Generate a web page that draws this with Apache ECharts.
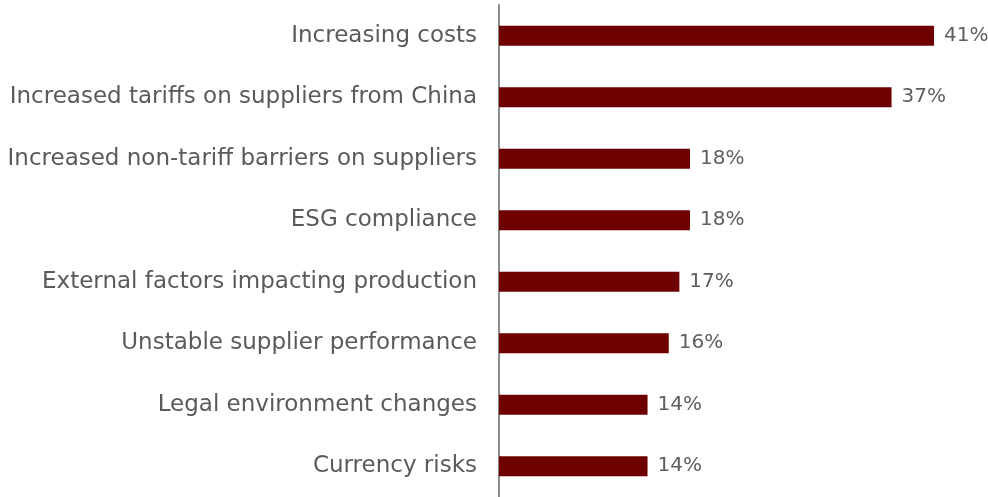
<!DOCTYPE html>
<html>
<head>
<meta charset="utf-8">
<script src="https://cdn.jsdelivr.net/npm/echarts@6/dist/echarts.min.js"></script>
<style>
  html, body { margin: 0; padding: 0; background: #ffffff; }
  #chart { width: 988px; height: 497px; }
</style>
</head>
<body>
<div id="chart"></div>
<script>
// Supply-chain challenges, share of respondents (%)
const categories = [
  'Increasing costs',
  'Increased tariffs on suppliers from China',
  'Increased non-tariff barriers on suppliers',
  'ESG compliance',
  'External factors impacting production',
  'Unstable supplier performance',
  'Legal environment changes',
  'Currency risks'
];
const values = [41, 37, 18, 18, 17, 16, 14, 14];

const chart = echarts.init(document.getElementById('chart'));
chart.setOption({
  animation: false,
  grid: { left: 499, right: 54, top: 5, bottom: 0, containLabel: false },
  xAxis: {
    type: 'value',
    min: 0,
    max: 41,
    show: false
  },
  yAxis: {
    type: 'category',
    inverse: true,
    data: categories,
    axisLine: { show: true, lineStyle: { color: '#8c8c8c', width: 2 } },
    axisTick: { show: false },
    axisLabel: {
      margin: 22,
      color: '#5a5a5a',
      fontSize: 23,
      fontFamily: 'DejaVu Sans'
    }
  },
  series: [{
    type: 'bar',
    data: values,
    barWidth: 20,
    itemStyle: { color: '#6e0000' },
    label: {
      show: true,
      position: 'right',
      distance: 10,
      formatter: '{c}%',
      color: '#5e5e5e',
      fontSize: 20,
      fontFamily: 'DejaVu Sans'
    }
  }]
});
</script>
</body>
</html>
